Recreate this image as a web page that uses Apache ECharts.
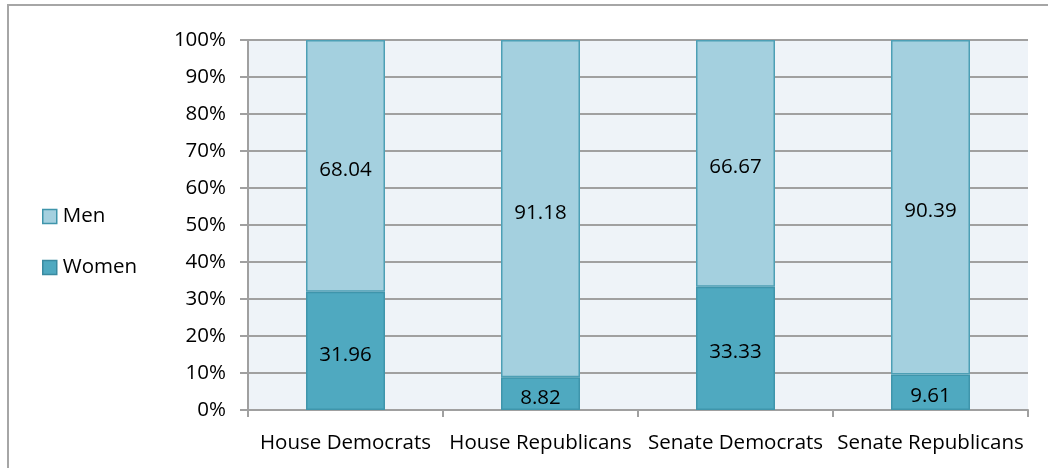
<!DOCTYPE html>
<html>
<head>
<meta charset="utf-8">
<script src="https://cdn.jsdelivr.net/npm/echarts@6/dist/echarts.min.js"></script>
<style>
  html, body { margin: 0; padding: 0; background: #fff; }
  #frame { position: absolute; left: 7px; top: 4px; width: 1060px; height: 480px; border: 2px solid #a6a6a6; box-sizing: border-box; }
  #chart { position: absolute; left: 0; top: 0; width: 1048px; height: 468px; }
</style>
</head>
<body>
<div id="frame"></div>
<div id="chart"></div>
<script>
// Share of seats by gender in each party caucus (percent)
const categories = ['House Democrats', 'House Republicans', 'Senate Democrats', 'Senate Republicans'];
const women = [31.96, 8.82, 33.33, 9.61];
const men = [68.04, 91.18, 66.67, 90.39];
const yTicks = [0, 10, 20, 30, 40, 50, 60, 70, 80, 90, 100];

const FONT = '"Open Sans", Lato, sans-serif';
const FS = 20.5;
const chart = echarts.init(document.getElementById('chart'), null, { renderer: 'canvas' });

const labelStyle = {
  show: true,
  position: 'inside',
  offset: [0, 4],
  color: '#000',
  fontFamily: FONT,
  fontSize: FS,
  formatter: p => p.value.toFixed(2)
};

chart.setOption({
  animation: false,
  grid: { left: 248, right: 20, top: 40, bottom: 58, backgroundColor: '#eef3f8', show: true, borderWidth: 0 },
  legend: {
    orient: 'vertical',
    left: 37,
    top: 201,
    itemGap: 30,
    itemWidth: 14,
    itemHeight: 14,
    icon: 'rect',
    textStyle: { fontFamily: FONT, fontSize: FS, color: '#000', padding: [0, 0, 0, 1] },
    data: [
      { name: 'Men', itemStyle: { borderColor: '#3f95ab', borderWidth: 1.5 } },
      { name: 'Women', itemStyle: { borderColor: '#3a8aa0', borderWidth: 1.5 } }
    ]
  },
  xAxis: {
    type: 'category',
    data: categories,
    axisLine: { lineStyle: { color: '#a0a0a0', width: 2 } },
    axisTick: { show: true, length: 7, lineStyle: { color: '#a0a0a0', width: 2 } },
    axisLabel: { interval: 0, color: '#000', fontFamily: FONT, fontSize: FS, margin: 23 }
  },
  yAxis: {
    type: 'value',
    min: yTicks[0],
    max: yTicks[yTicks.length - 1],
    interval: 10,
    axisLine: { show: true, lineStyle: { color: '#a0a0a0', width: 2 } },
    axisTick: { show: true, length: 8, lineStyle: { color: '#a0a0a0', width: 2 } },
    splitLine: { lineStyle: { color: '#a0a0a0', width: 2 } },
    axisLabel: { color: '#000', fontFamily: FONT, fontSize: FS, margin: 22, formatter: '{value}%' }
  },
  series: [
    {
      name: 'Women',
      type: 'bar',
      stack: 'total',
      barWidth: 79,
      data: women,
      itemStyle: { color: '#4fa9c0', borderColor: '#3f95ab', borderWidth: 1.5 },
      label: labelStyle
    },
    {
      name: 'Men',
      type: 'bar',
      stack: 'total',
      barWidth: 79,
      data: men,
      itemStyle: { color: '#a4d0df', borderColor: '#4d9fb5', borderWidth: 1.5 },
      label: labelStyle
    }
  ]
});
</script>
</body>
</html>
